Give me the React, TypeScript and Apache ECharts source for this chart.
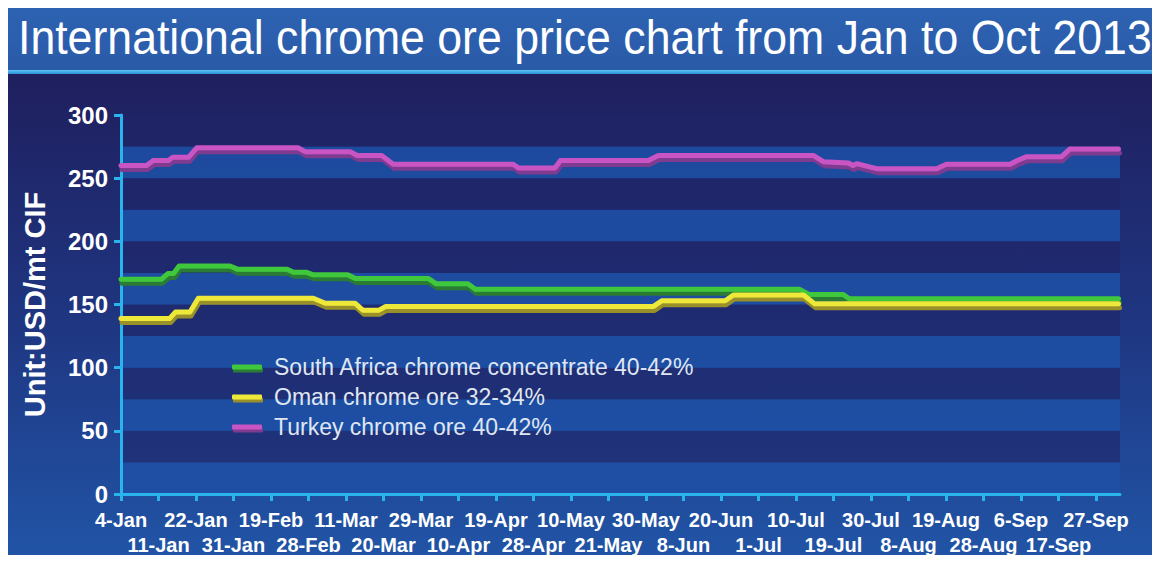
import React, { useEffect, useRef } from "react";
import * as echarts from "echarts";

// Tick labels of the x axis (positions 0..26 on the axis)
const tickLabels = [
  "4-Jan", "11-Jan", "22-Jan", "31-Jan", "19-Feb", "28-Feb", "11-Mar", "20-Mar", "29-Mar",
  "10-Apr", "19-Apr", "28-Apr", "10-May", "21-May", "30-May", "8-Jun", "20-Jun", "1-Jul",
  "10-Jul", "19-Jul", "30-Jul", "8-Aug", "19-Aug", "28-Aug", "6-Sep", "17-Sep", "27-Sep",
];

const seriesNames = [
  "South Africa chrome concentrate 40-42%",
  "Oman chrome ore 32-34%",
  "Turkey chrome ore 40-42%",
];

// [position in tick-label units, USD/mt]
const southAfrica = [
  [0, 170], [1.08, 170], [1.25, 174.5], [1.4, 174.5], [1.55, 180.5], [2.91, 180.5], [3.1, 178],
  [4.42, 178], [4.6, 175.5], [4.95, 175.5], [5.13, 173.5], [6.05, 173.5], [6.25, 170.5],
  [8.2, 170.5], [8.4, 166.5], [9.25, 166.5], [9.45, 162], [18.1, 162], [18.35, 158],
  [19.26, 158], [19.42, 154.5], [26.6, 154.5],
];

const oman = [
  [0, 139], [1.3, 139], [1.45, 144], [1.84, 144], [2.06, 155], [5.13, 155], [5.45, 151],
  [6.24, 151], [6.45, 145.5], [6.88, 145.5], [7.06, 148.5], [14.2, 148.5], [14.42, 153],
  [16.11, 153], [16.33, 157.5], [18.2, 157.5], [18.5, 150.5], [26.6, 150.5],
];

const turkey = [
  [0, 260], [0.68, 260], [0.86, 264], [1.26, 264], [1.38, 266.5], [1.8, 266.5], [2.02, 274],
  [4.73, 274], [4.91, 271], [6.11, 271], [6.3, 268], [6.95, 268], [7.26, 261], [10.46, 261],
  [10.6, 258], [11.57, 258], [11.72, 264], [14.06, 264], [14.33, 268], [18.46, 268],
  [18.73, 263], [19.4, 262], [19.52, 260], [19.62, 261.5], [20.15, 257.5], [21.75, 257.5],
  [22.01, 261], [23.71, 261], [23.9, 264], [24.15, 267], [25.08, 267], [25.3, 273], [26.6, 273],
];

const seriesData = [southAfrica, oman, turkey];
const lineColors = ["#3fc83c", "#eee83a", "#c955c4"];
const shadowColors = ["#2a7c36", "#9a902c", "#7e3a90"];

const AXIS = "#2ab4ee";
const FONT = '"Liberation Sans", Arial, Helvetica, sans-serif';

export default function App() {
  const ref = useRef<HTMLDivElement>(null);

  useEffect(() => {
    if (!ref.current) return;
    const chart = echarts.init(ref.current, undefined, { renderer: "svg" });
    const tickIdx = tickLabels.map((_, i) => i);
    const evenIdx = tickIdx.filter((i) => i % 2 === 0);
    const oddIdx = tickIdx.filter((i) => i % 2 === 1);
    const xLabelBase = {
      showMinLabel: true,
      showMaxLabel: true,
      hideOverlap: false,
      color: "#ffffff",
      fontWeight: "bold",
      fontSize: 20,
      fontFamily: FONT,
      formatter: (v: number) => tickLabels[Math.round(v)] ?? "",
    };

    const option: any = {
      animation: false,
      graphic: [
        {
          type: "rect",
          z: -10,
          silent: true,
          shape: { x: 0, y: 0, width: 1152, height: 62 },
          style: {
            fill: new echarts.graphic.LinearGradient(0, 0, 0, 1, [
              { offset: 0, color: "#2d63b2" },
              { offset: 1, color: "#2a5aa8" },
            ]),
          },
        },
        {
          type: "rect",
          z: -10,
          silent: true,
          shape: { x: 0, y: 62, width: 1152, height: 4 },
          style: {
            fill: new echarts.graphic.LinearGradient(0, 0, 0, 1, [
              { offset: 0, color: "#5cc4f4" },
              { offset: 1, color: "#2b8ed8" },
            ]),
          },
        },
        {
          type: "rect",
          z: -10,
          silent: true,
          shape: { x: 0, y: 66, width: 1152, height: 481 },
          style: {
            fill: new echarts.graphic.LinearGradient(0, 0, 0, 1, [
              { offset: 0, color: "#1f1f5e" },
              { offset: 0.5, color: "#1f3580" },
              { offset: 1, color: "#2154a6" },
            ]),
          },
        },
        {
          type: "text",
          z: 10,
          silent: true,
          x: 10,
          y: 29,
          scaleX: 0.93,
          style: {
            text: "International chrome ore price chart from Jan to Oct 2013",
            fill: "#ffffff",
            font: `48px ${FONT}`,
            align: "left",
            verticalAlign: "middle",
          },
        },
      ],
      grid: { left: 113, top: 107, right: 40, bottom: 61 },
      legend: {
        orient: "vertical",
        left: 219,
        top: 341,
        icon: "roundRect",
        itemWidth: 30,
        itemHeight: 5,
        itemGap: 4,
        data: seriesNames.map((n, i) => ({
          name: n,
          itemStyle: {
            color: lineColors[i],
            shadowColor: shadowColors[i],
            shadowOffsetY: 3,
            shadowOffsetX: 1,
            shadowBlur: 0,
          },
        })),
        textStyle: {
          color: "#dfe6f2",
          fontSize: 23,
          fontFamily: FONT,
          lineHeight: 26,
          padding: [0, 0, 0, 7],
        },
      },
      xAxis: [
        {
          type: "value",
          min: 0,
          max: 26.64,
          interval: 1,
          axisLine: { show: true, lineStyle: { color: AXIS, width: 3 } },
          axisTick: {
            show: true,
            length: 7,
            customValues: tickIdx,
            lineStyle: { color: AXIS, width: 3 },
          },
          axisLabel: { ...xLabelBase, customValues: evenIdx, margin: 16 },
          splitLine: { show: false },
        },
        {
          type: "value",
          position: "bottom",
          offset: 0,
          min: 0,
          max: 26.64,
          interval: 1,
          axisLine: { show: false },
          axisTick: { show: false },
          axisLabel: { ...xLabelBase, customValues: oddIdx, margin: 41 },
          splitLine: { show: false },
        },
      ],
      yAxis: [
        {
          type: "value",
          min: 0,
          max: 300,
          interval: 50,
          name: "Unit:USD/mt CIF",
          nameLocation: "middle",
          nameRotate: 90,
          nameGap: 72,
          nameTextStyle: {
            color: "#ffffff",
            fontWeight: "bold",
            fontSize: 29,
            fontFamily: FONT,
          },
          axisLine: { show: true, lineStyle: { color: AXIS, width: 3 } },
          axisTick: { show: true, length: 7, lineStyle: { color: AXIS, width: 3 } },
          axisLabel: {
            color: "#ffffff",
            fontWeight: "bold",
            fontSize: 24,
            fontFamily: FONT,
            margin: 13,
          },
          splitLine: { show: false },
          splitArea: { show: false },
        },
        {
          type: "value",
          min: 0,
          max: 300,
          interval: 25,
          position: "left",
          axisLine: { show: false },
          axisTick: { show: false },
          axisLabel: { show: false },
          splitLine: { show: false },
          splitArea: {
            show: true,
            areaStyle: { color: ["rgba(30,80,165,0.88)", "rgba(32,36,104,0.6)"] },
          },
        },
      ],
      series: seriesNames.map((n, i) => ({
        name: n,
        type: "line",
        xAxisIndex: 0,
        yAxisIndex: 0,
        data: seriesData[i],
        symbol: "none",
        z: 3 + i,
        itemStyle: { color: lineColors[i] },
        lineStyle: {
          color: lineColors[i],
          width: 5,
          cap: "round",
          join: "round",
          shadowColor: shadowColors[i],
          shadowBlur: 0,
          shadowOffsetX: 1,
          shadowOffsetY: 4,
        },
      })),
    };

    chart.setOption(option);
    return () => chart.dispose();
  }, []);

  return <div ref={ref} style={{ width: 1152, height: 547 }} />;
}
